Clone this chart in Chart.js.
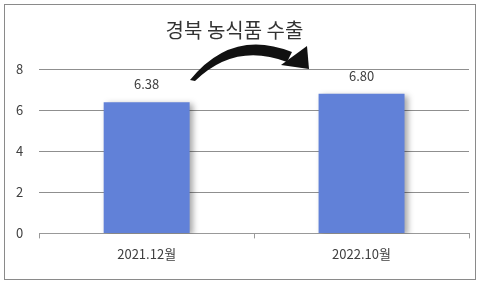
<!DOCTYPE html>
<html>
<head>
<meta charset="utf-8">
<script src="https://cdn.jsdelivr.net/npm/chart.js"></script>
<style>
  html, body { margin: 0; padding: 0; background: #fff; }
  #wrap { width: 482px; height: 284px; }
</style>
</head>
<body>
<div id="wrap"><canvas id="exportChart" width="482" height="284"></canvas></div>
<script>
const periods = ["2021.12월", "2022.10월"];
const exportValues = [6.38, 6.80];
const yTicks = [0, 2, 4, 6, 8];
const titleText = "경북 농식품 수출";

const FONT = "'Noto Sans CJK KR', 'Noto Sans', sans-serif";

// frame, arrow and value labels
const decoPlugin = {
  id: 'deco',
  beforeDraw: function(chart) {
    var ctx = chart.ctx;
    ctx.save();
    ctx.fillStyle = "#fff";
    ctx.fillRect(0, 0, chart.width, chart.height);
    ctx.strokeStyle = "#8a8a8a";
    ctx.lineWidth = 1;
    ctx.strokeRect(4.5, 4.5, 471, 275);
    ctx.restore();
  },
  beforeDatasetsDraw: function(chart) {
    var ctx = chart.ctx;
    ctx.save();
    ctx.shadowColor = "rgba(0,0,0,0.35)";
    ctx.shadowBlur = 6;
    ctx.shadowOffsetX = 3;
    ctx.shadowOffsetY = 2;
  },
  afterDatasetsDraw: function(chart) {
    var ctx = chart.ctx;
    ctx.restore();
    ctx.save();
    // value labels
    var meta = chart.getDatasetMeta(0);
    ctx.font = "13px " + FONT;
    ctx.fillStyle = "#404040";
    ctx.textAlign = "center";
    ctx.textBaseline = "middle";
    meta.data.forEach(function(bar, i) {
      ctx.fillText(exportValues[i].toFixed(2), bar.x, bar.y - 18);
    });
    // curved arrow
    ctx.fillStyle = "#111";
    ctx.beginPath();
    ctx.moveTo(190, 80);
    ctx.quadraticCurveTo(232, 28, 292, 52);
    ctx.lineTo(287, 62);
    ctx.quadraticCurveTo(235, 42, 195, 81);
    ctx.closePath();
    ctx.fill();
    ctx.beginPath();
    ctx.moveTo(307, 46);
    ctx.lineTo(309, 69);
    ctx.lineTo(281, 65);
    ctx.closePath();
    ctx.fill();
    ctx.restore();
  }
};

new Chart("exportChart", {
  type: "bar",
  data: {
    labels: periods,
    datasets: [{
      data: exportValues,
      backgroundColor: "#6181d8",
      barPercentage: 0.8,
      categoryPercentage: 0.5
    }]
  },
  options: {
    responsive: false,
    animation: false,
    devicePixelRatio: 1,
    layout: { padding: { left: 0, right: 13, top: 0, bottom: 14 } },
    plugins: {
      legend: { display: false },
      tooltip: { enabled: false },
      title: {
        display: true,
        text: titleText,
        color: "#333",
        font: { family: FONT, size: 20, weight: "normal" },
        padding: { top: 18, bottom: 27 }
      }
    },
    scales: {
      x: {
        grid: {
          drawOnChartArea: false,
          drawTicks: true,
          tickLength: 5,
          color: "#999"
        },
        border: { display: true, color: "#999" },
        ticks: {
          color: "#404040",
          font: { family: FONT, size: 13 },
          padding: 8
        }
      },
      y: {
        min: 0,
        max: 8,
        afterBuildTicks: function(axis) {
          axis.ticks = yTicks.map(function(v) { return { value: v }; });
        },
        grid: { color: "#8f8f8f", drawTicks: false },
        border: { display: false },
        ticks: {
          color: "#404040",
          font: { family: FONT, size: 13 },
          padding: 16
        }
      }
    }
  },
  plugins: [decoPlugin]
});
</script>
</body>
</html>
